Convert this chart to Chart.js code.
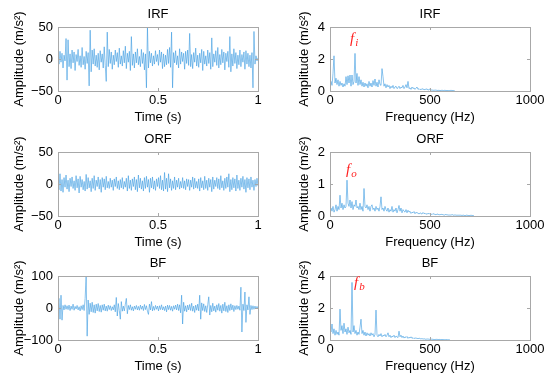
<!DOCTYPE html>
<html>
<head>
<meta charset="utf-8">
<script src="https://cdn.jsdelivr.net/npm/chart.js@4.4.1/dist/chart.umd.min.js"></script>
<style>
  body { margin: 0; background: #fff; width: 550px; height: 380px; position: relative; overflow: hidden; }
  canvas { position: absolute; }
</style>
</head>
<body>
<canvas id="irfTime" width="275" height="125" style="left:0;top:0"></canvas>
<canvas id="irfFreq" width="275" height="125" style="left:275px;top:0"></canvas>
<canvas id="orfTime" width="275" height="125" style="left:0;top:125px"></canvas>
<canvas id="orfFreq" width="275" height="125" style="left:275px;top:125px"></canvas>
<canvas id="bfTime" width="275" height="125" style="left:0;top:249px"></canvas>
<canvas id="bfFreq" width="275" height="125" style="left:275px;top:249px"></canvas>
<script>
// --- data: time signals, 200 samples over 1 s ---
const IRF_TIME = [
  3, -8, 12, -5, 9, -14, 6, -3, 32, -33,
  30, -12, 8, -15, 14, -6, 11, -18, 7, -4,
  15, -10, 5, -13, 18, -9, 4, -16, 12, -7,
  10, -42, 45, -20, 14, -8, 16, -11, 6, -13,
  9, -17, 13, -5, 8, -14, 19, -10, -35, 42,
  -12, 15, -7, 11, -16, 6, -9, 14, -4, 10,
  -13, 17, -8, 5, -11, 13, -6, 20, -15, 9,
  -5, 12, -18, 35, -10, 8, -14, 11, -6, 16,
  -9, 4, -12, 15, -7, 10, -17, 8, -45, 50,
  -14, 12, -6, 9, -11, 5, -8, 13, -4, 7,
  -10, 14, -5, 11, -15, 8, -12, 6, -9, 15,
  -7, 18, -13, 42, -45, 10, -6, 13, -9, 5,
  -14, 16, -8, 11, -4, 9, -16, 12, -7, 14,
  -10, 40, -12, 7, -15, 10, -5, 17, -11, 6,
  -13, 9, -6, 15, -18, 12, -8, 5, -11, 14,
  -7, 10, -16, 33, -12, 8, -5, 13, -10, 18,
  -14, 7, -9, 15, -6, 11, -17, 9, -4, 12,
  -13, 35, -20, 8, -11, 16, -7, 10, -15, 6,
  -9, 14, -12, 7, -5, 11, -16, 13, -8, 9,
  -12, 6, -14, 10, -45, 43, -8, 5, -3, 2
];
const ORF_TIME = [
  2, -9, 16, -11, 7, -13, 10, -5, 14, -8,
  6, -12, 9, -4, 11, -7, 5, -10, 13, -6,
  8, -14, 12, -5, 7, -9, 4, -11, 15, -8,
  10, -6, 5, -12, 9, -7, 13, -10, 6, -4,
  11, -8, 7, -13, 10, -5, 8, -9, 12, -6,
  4, -7, 9, -5, 6, -10, 8, -4, 11, -7,
  5, -9, 7, -6, 10, -8, 4, -5, 9, -11,
  13, -7, 6, -10, 8, -4, 11, -9, 7, -12,
  14, -6, 9, -8, 5, -11, 10, -7, 12, -5,
  7, -13, 9, -6, 11, -8, 5, -10, 8, -4,
  10, -7, 13, -9, 6, -11, 18, -8, 9, -12,
  16, -6, 8, -10, 5, -7, 11, -9, 6, -5,
  9, -8, 4, -6, 10, -7, 5, -9, 8, -4,
  7, -10, 6, -5, 11, -8, 9, -6, 4, -7,
  8, -11, 10, -6, 5, -9, 12, -7, 6, -10,
  9, -5, 7, -12, 11, -8, 6, -4, 10, -7,
  8, -9, 13, -6, 5, -10, 9, -7, 11, -5,
  16, -12, 7, -9, 10, -6, 8, -11, 14, -7,
  6, -10, 9, -5, 12, -8, 7, -13, 10, -6,
  8, -9, 11, -5, 6, -10, 7, -4, 9, -3
];
const BF_TIME = [
  5, 30, -35, 40, -38, 8, -6, 10, -4, 7,
  -5, 9, -8, 6, -4, 12, -7, 5, -3, 8,
  -6, 4, -9, 7, -5, 10, -8, 30, 100, -88,
  25, -20, 15, -12, 18, -14, 10, -16, 12, -9,
  14, -11, 8, -13, 10, -7, 12, -9, 6, -10,
  9, -5, 7, -8, 4, -6, 10, -12, 33, -25,
  14, -8, -35, 20, -10, 6, -9, 12, 30, -18,
  8, -5, 10, -7, 4, -9, 6, -4, 8, -6,
  5, -7, 9, -4, 6, -8, 11, -5, 7, -10,
  -20, 12, -6, 20, -9, 5, -7, 8, -4, 6,
  -9, 7, -5, 10, -6, 4, -8, 6, -12, 9,
  -5, 8, -7, 5, -10, 7, -4, 9, -6, 12,
  -8, 10, -15, 40, -50, 18, -10, 7, -12, 9,
  -6, 11, -8, 15, -10, 6, -14, 9, -7, 12,
  -9, 40, -35, 16, -8, 13, -11, 7, -14, 10,
  35, -22, 8, -12, 15, -9, 6, -13, 10, -7,
  14, -10, 8, -16, 12, -9, 18, -11, 7, -14,
  10, -8, 13, -6, 9, -11, 7, -5, 8, -4,
  6, -7, 65, -75, 12, -8, 50, -45, 10, -6,
  35, -20, 8, -5, 7, -4, 6, -3, 5, -2
];

// --- data: spectra, one value every 5 Hz from 0 Hz ---
const IRF_SPEC = [
  0.3, 0.6, 0.35, 1.1, 2.2, 0.5, 0.8, 0.4, 0.7, 0.3,
  0.6, 0.35, 0.5, 0.25, 0.45, 0.3, 0.9, 0.4, 0.95, 0.5,
  1.0, 0.3, 1.0, 0.4, 0.6, 2.35, 0.5, 1.1, 0.35, 0.9,
  0.4, 0.7, 0.3, 0.55, 0.25, 0.5, 0.3, 0.45, 0.2, 0.6,
  0.3, 0.5, 0.25, 0.65, 0.35, 0.75, 0.3, 0.55, 0.25, 0.7,
  0.4, 0.35, 1.4, 0.9, 0.3, 0.45, 0.2, 0.4, 0.25, 0.35,
  0.15, 0.3, 0.2, 0.35, 0.15, 0.25, 0.3, 0.15, 0.2, 0.3,
  0.15, 0.25, 0.2, 0.35, 0.15, 0.25, 0.4, 0.2, 0.6, 0.15,
  0.2, 0.1, 0.25, 0.15, 0.2, 0.1, 0.18, 0.25, 0.1, 0.15,
  0.08, 0.12, 0.1, 0.15, 0.06, 0.12, 0.09, 0.14, 0.05, 0.1,
  0.12, 0.05, 0.08, 0.03, 0.06, 0.04, 0.07, 0.02, 0.05, 0.03,
  0.04, 0.02, 0.06, 0.02, 0.03, 0.05, 0.02, 0.04, 0.02, 0.03,
  0.02, 0.05, 0.02, 0.04, 0.01, 0
];
const ORF_SPEC = [
  0.1, 0.25, 0.15, 0.3, 0.12, 0.2, 0.35, 0.15, 0.3, 0.2,
  0.65, 0.25, 0.4, 0.2, 0.35, 0.25, 0.3, 1.12, 0.4, 0.3,
  0.5, 0.25, 0.45, 0.2, 0.35, 0.3, 0.5, 0.25, 0.3, 0.2,
  0.4, 0.2, 0.3, 0.15, 0.86, 0.3, 0.25, 0.35, 0.2, 0.3,
  0.15, 0.3, 0.35, 0.2, 0.25, 0.15, 0.3, 0.2, 0.25, 0.15,
  0.3, 0.6, 0.2, 0.25, 0.15, 0.3, 0.2, 0.15, 0.25, 0.12,
  0.2, 0.15, 0.3, 0.12, 0.2, 0.15, 0.25, 0.1, 0.2, 0.33,
  0.15, 0.25, 0.1, 0.2, 0.15, 0.12, 0.2, 0.1, 0.18, 0.12,
  0.15, 0.08, 0.12, 0.1, 0.14, 0.07, 0.12, 0.09, 0.1, 0.06,
  0.1, 0.08, 0.06, 0.11, 0.07, 0.09, 0.05, 0.08, 0.06, 0.09,
  0.05, 0.07, 0.04, 0.08, 0.05, 0.06, 0.03, 0.07, 0.04, 0.05,
  0.03, 0.06, 0.04, 0.05, 0.02, 0.04, 0.05, 0.03, 0.04, 0.02,
  0.04, 0.02, 0.05, 0.03, 0.02, 0.04, 0.02, 0.03, 0.02, 0.03,
  0.02, 0.03, 0.01, 0.03, 0.02, 0.01, 0.02, 0.03, 0.01, 0.02,
  0.01, 0.03, 0.01, 0.02, 0
];
const BF_SPEC = [
  0.8, 0.5, 1.0, 0.4, 0.7, 0.3, 0.6, 0.35, 0.5, 0.3,
  1.93, 0.6, 0.9, 0.4, 1.05, 0.5, 0.7, 0.35, 0.8, 0.45,
  0.6, 0.35, 3.6, 0.5, 0.9, 0.4, 0.6, 0.3, 0.5, 0.35,
  0.8, 1.3, 0.4, 0.6, 0.3, 0.5, 0.25, 0.45, 0.3, 0.4,
  0.25, 0.45, 0.3, 0.4, 0.2, 0.35, 1.87, 0.3, 0.2, 0.35,
  0.25, 0.4, 0.2, 0.3, 0.25, 0.35, 0.2, 0.3, 0.45, 0.2,
  0.3, 0.15, 0.25, 0.2, 0.3, 0.15, 0.25, 0.2, 0.15, 0.55,
  0.2, 0.3, 0.15, 0.25, 0.12, 0.2, 0.15, 0.22, 0.1, 0.18,
  0.12, 0.2, 0.1, 0.15, 0.08, 0.14, 0.1, 0.12, 0.07, 0.12,
  0.09, 0.06, 0.1, 0.05, 0.08, 0.06, 0.04, 0.07, 0.05, 0.06,
  0.03, 0.06, 0.04, 0.05, 0.02, 0.04, 0.03, 0.05, 0.02, 0.04,
  0.03, 0.02, 0.04, 0.02, 0.03, 0.01, 0.03, 0.02, 0.01, 0.02,
  0
];

const TIME_STEP = 1 / 199;   // s between samples
const FREQ_STEP = 5;         // Hz between spectrum bins

const LINE = '#3b9be0';
const FRAME = '#a8a8a8';
const FONT = '"Liberation Sans", Arial, Helvetica, sans-serif';

// box around the plot, inward ticks, title and peak label
const frame = {
  id: 'frame',
  afterDraw(chart, args, opts) {
    const { ctx, chartArea: a, scales } = chart;
    ctx.save();
    ctx.strokeStyle = FRAME;
    ctx.lineWidth = 1;
    ctx.strokeRect(Math.round(a.left) + 0.5, Math.round(a.top) + 0.5,
                   Math.round(a.right - a.left), Math.round(a.bottom - a.top));
    ctx.beginPath();
    for (const t of scales.x.ticks) {
      const px = Math.round(scales.x.getPixelForValue(t.value)) + 0.5;
      ctx.moveTo(px, a.bottom); ctx.lineTo(px, a.bottom - 3);
      ctx.moveTo(px, a.top); ctx.lineTo(px, a.top + 3);
    }
    for (const t of scales.y.ticks) {
      const py = Math.round(scales.y.getPixelForValue(t.value)) + 0.5;
      ctx.moveTo(a.left, py); ctx.lineTo(a.left + 3, py);
      ctx.moveTo(a.right, py); ctx.lineTo(a.right - 3, py);
    }
    ctx.stroke();

    ctx.fillStyle = '#000';
    ctx.font = '13px ' + FONT;
    ctx.textAlign = 'center';
    ctx.textBaseline = 'alphabetic';
    ctx.fillText(opts.title, (a.left + a.right) / 2, a.top - 9);

    if (opts.note) {
      const nx = scales.x.getPixelForValue(opts.note.x);
      const ny = scales.y.getPixelForValue(opts.note.y);
      ctx.fillStyle = '#ff2020';
      ctx.textAlign = 'left';
      ctx.font = 'italic 15px "Liberation Serif", "Times New Roman", serif';
      ctx.fillText('f', nx, ny);
      const w = ctx.measureText('f').width;
      ctx.font = 'italic 11px "Liberation Serif", "Times New Roman", serif';
      ctx.fillText(opts.note.sub, nx + w + 1, ny + 3);
    }
    ctx.restore();
  }
};

function fmt(v) {
  return String(v).replace('-', '\u2212');
}

function plot(id, title, values, step, xMax, xStep, xLabel, yMax, yMin, yStep, yTitlePad, plotLeft, note) {
  const pts = values.map((v, i) => ({ x: i * step, y: v }));
  return new Chart(document.getElementById(id), {
    type: 'line',
    data: {
      datasets: [{
        data: pts,
        borderColor: LINE,
        borderWidth: 0.6,
        pointRadius: 0,
        tension: 0,
        fill: false,
      }],
    },
    options: {
      responsive: false,
      animation: false,
      events: [],
      layout: { padding: { top: 27, right: 275 - plotLeft - 200, left: 0, bottom: 0 } },
      plugins: {
        legend: { display: false },
        tooltip: { enabled: false },
        frame: { title, note },
      },
      scales: {
        x: {
          type: 'linear',
          min: 0,
          max: xMax,
          grid: { display: false, drawTicks: false },
          border: { display: false },
          ticks: { stepSize: xStep, padding: 2, maxRotation: 0, color: '#000',
                    font: { family: FONT, size: 13 }, callback: v => fmt(v) },
          title: { display: true, text: xLabel, color: '#000',
                   font: { family: FONT, size: 13 }, padding: { top: 0, bottom: 0 } },
          afterFit: s => { s.height = 34; },
        },
        y: {
          min: yMin,
          max: yMax,
          grid: { display: false, drawTicks: false },
          border: { display: false },
          ticks: { stepSize: yStep, padding: 5, color: '#000',
                   font: { family: FONT, size: 13 }, callback: v => fmt(v) },
          title: { display: true, text: 'Amplitude (m/s\u00b2)', color: '#000',
                   font: { family: FONT, size: 13 }, padding: { top: yTitlePad, bottom: 0 } },
          afterFit: s => { s.width = plotLeft; },
        },
      },
    },
    plugins: [frame],
  });
}

plot('irfTime', 'IRF', IRF_TIME, TIME_STEP, 1, 0.5, 'Time (s)', 50, -50, 50, 12, 58);
plot('orfTime', 'ORF', ORF_TIME, TIME_STEP, 1, 0.5, 'Time (s)', 50, -50, 50, 12, 58);
plot('bfTime', 'BF', BF_TIME, TIME_STEP, 1, 0.5, 'Time (s)', 100, -100, 100, 12, 58);
plot('irfFreq', 'IRF', IRF_SPEC, FREQ_STEP, 1000, 500, 'Frequency (Hz)', 4, 0, 2, 22, 55,
     { x: 100, y: 3.0, sub: 'i' });
plot('orfFreq', 'ORF', ORF_SPEC, FREQ_STEP, 1000, 500, 'Frequency (Hz)', 2, 0, 1, 22, 55,
     { x: 80, y: 1.31, sub: 'o' });
plot('bfFreq', 'BF', BF_SPEC, FREQ_STEP, 1000, 500, 'Frequency (Hz)', 4, 0, 2, 22, 55,
     { x: 120, y: 3.3, sub: 'b' });
</script>
</body>
</html>
